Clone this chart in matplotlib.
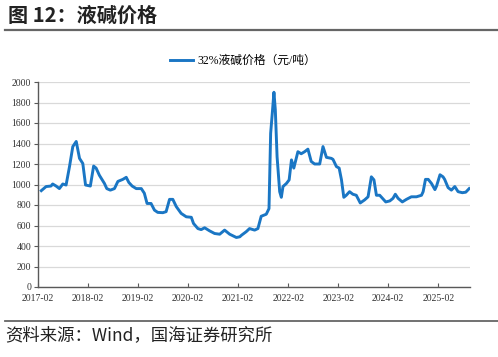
import matplotlib
matplotlib.use("Agg")
import matplotlib.pyplot as plt
import pandas as pd

plt.rcParams['font.family'] = ['Noto Sans CJK SC', 'DejaVu Sans']

# 32%液碱价格（元/吨）
dates = [
    "2017-02-25", "2017-04-01", "2017-05-07", "2017-05-19", "2017-06-13", "2017-07-07",
    "2017-08-01", "2017-08-25", "2017-09-19", "2017-10-13", "2017-11-07", "2017-12-01",
    "2017-12-25", "2018-01-14", "2018-02-18", "2018-03-14", "2018-04-01", "2018-04-25",
    "2018-06-01", "2018-06-18", "2018-07-14", "2018-08-13", "2018-09-07", "2018-10-13",
    "2018-11-07", "2018-11-26", "2018-12-20", "2019-01-19", "2019-02-25", "2019-03-19",
    "2019-04-08", "2019-05-07", "2019-06-01", "2019-06-25", "2019-08-01", "2019-08-25",
    "2019-09-19", "2019-10-13", "2019-11-07", "2019-12-13", "2020-01-19", "2020-02-25",
    "2020-03-12", "2020-04-13", "2020-05-07", "2020-06-01", "2020-07-07", "2020-08-13",
    "2020-09-19", "2020-10-25", "2020-12-01", "2021-01-19", "2021-02-13", "2021-02-25",
    "2021-04-01", "2021-04-25", "2021-06-01", "2021-06-25", "2021-07-19", "2021-08-25",
    "2021-09-14", "2021-09-26", "2021-10-08", "2021-10-20", "2021-10-30", "2021-11-12",
    "2021-12-01", "2021-12-13", "2021-12-25", "2022-01-19", "2022-02-08", "2022-02-25",
    "2022-03-14", "2022-04-13", "2022-05-07", "2022-06-01", "2022-06-25", "2022-07-19",
    "2022-08-13", "2022-09-19", "2022-10-13", "2022-11-07", "2022-12-13", "2022-12-25",
    "2023-01-19", "2023-02-08", "2023-02-25", "2023-03-14", "2023-04-01", "2023-04-25",
    "2023-05-19", "2023-06-13", "2023-07-12", "2023-08-13", "2023-09-07", "2023-10-01",
    "2023-10-20", "2023-11-07", "2023-12-01", "2024-01-14", "2024-02-13", "2024-03-07",
    "2024-03-24", "2024-04-13", "2024-05-14", "2024-06-13", "2024-07-19", "2024-08-25",
    "2024-10-01", "2024-10-13", "2024-10-30", "2024-11-19", "2024-12-13", "2025-01-07",
    "2025-01-19", "2025-02-13", "2025-03-07", "2025-03-19", "2025-04-13", "2025-05-07",
    "2025-06-01", "2025-06-25", "2025-07-26", "2025-08-20", "2025-09-14",
]
prices = [
    940, 980, 985, 1005, 985, 960,
    1005, 995, 1175, 1370, 1420, 1255,
    1205, 995, 985, 1180, 1160, 1090,
    1010, 960, 945, 960, 1030, 1050,
    1070, 1020, 985, 960, 960, 915,
    815, 815, 750, 728, 725, 735,
    855, 855, 785, 718, 685, 680,
    620, 570, 560, 578, 548, 522,
    515, 555, 515, 483, 490, 505,
    540, 570, 555, 570, 690, 710,
    765, 1500, 1695, 1900, 1730, 1270,
    930, 875, 980, 1010, 1045, 1240,
    1160, 1320, 1300, 1320, 1345, 1225,
    1200, 1200, 1370, 1265, 1255, 1245,
    1175, 1160, 1045, 875, 895, 930,
    905, 895, 820, 850, 880, 1075,
    1045, 895, 895, 830, 840, 865,
    905, 865, 830, 855, 880, 880,
    895, 930, 1050, 1050, 1010, 950,
    985, 1095, 1075, 1050, 970, 945,
    980, 930, 920, 925, 960,
]
tick_labels = ["2017-02", "2018-02", "2019-02", "2020-02", "2021-02",
               "2022-02", "2023-02", "2024-02", "2025-02"]
series_name = "32%液碱价格（元/吨）"

x = pd.to_datetime(dates)

fig = plt.figure(figsize=(4.98, 3.57), dpi=100)
ax = fig.add_axes([38 / 498, 70 / 357, 432 / 498, 205 / 357])

ax.plot(x, prices, color="#1a76c4", linewidth=2.1, label=series_name)

ax.set_ylim(0, 2000)
ax.set_yticks(range(0, 2001, 200))
ax.set_xlim(pd.Timestamp("2017-02-01"), pd.Timestamp("2025-09-20"))
ax.set_xticks(pd.to_datetime([t + "-01" for t in tick_labels]))
ax.set_xticklabels(tick_labels)

ax.grid(axis="y", color="#d9d9d9", linewidth=0.9)
ax.set_axisbelow(True)
for s in ["top", "right"]:
    ax.spines[s].set_visible(False)
for s in ["left", "bottom"]:
    ax.spines[s].set_color("#595959")
    ax.spines[s].set_linewidth(1.0)
ax.tick_params(axis="x", direction="in", length=3, color="#595959", pad=5)
ax.tick_params(axis="y", direction="out", length=3, color="#595959", pad=2)
for lab in ax.get_xticklabels() + ax.get_yticklabels():
    lab.set_family("Liberation Serif")
    lab.set_fontsize(7)
    lab.set_color("#333333")

leg = ax.legend(loc="lower center", bbox_to_anchor=(0.475, 1.02), frameon=False,
                fontsize=8.5, handlelength=1.9, handletextpad=0.4)
for t in leg.get_texts():
    t.set_family(["Liberation Serif", "Noto Sans CJK SC"])

# 标题与来源
fig.text(8 / 498, 1 - 15 / 357, "图 12：液碱价格", fontsize=14.5, fontweight="bold",
         va="center", ha="left", color="#222222")
fig.add_artist(plt.Line2D([5 / 498, 1], [1 - 30 / 357] * 2, color="#666666", linewidth=1.6))
fig.add_artist(plt.Line2D([5 / 498, 1], [1 - 321 / 357] * 2, color="#666666", linewidth=1.3))
fig.text(5 / 498, 1 - 335 / 357, "资料来源：Wind，国海证券研究所", fontsize=12.5,
         va="center", ha="left", color="#222222")

fig.savefig("out.png", dpi=100)
